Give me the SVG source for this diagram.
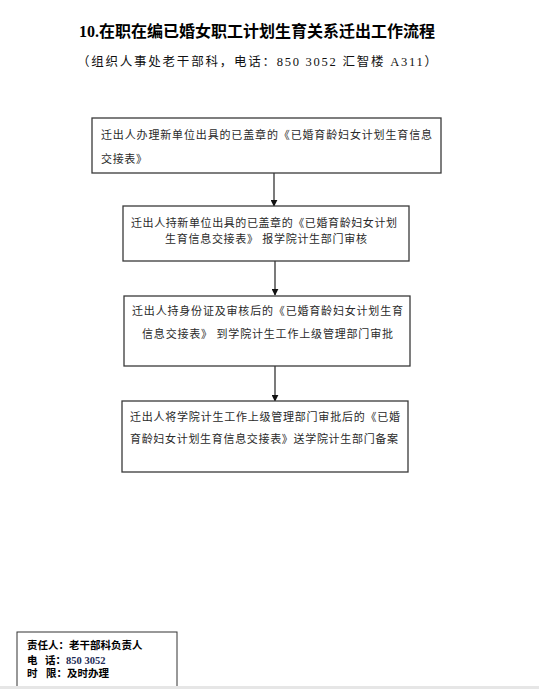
<svg xmlns="http://www.w3.org/2000/svg" width="539" height="689" viewBox="0 0 539 689">
<style>
.box{fill:#fff;stroke:#3a3a3a;stroke-width:1.3}
.t{font-family:"Liberation Serif","Noto Sans CJK SC",serif;font-size:11px;fill:#2a2a2a}
.c{text-anchor:middle}
.title{font-family:"Liberation Serif","Noto Sans CJK SC",serif;font-size:16px;font-weight:bold;fill:#000}
.sub{font-family:"Liberation Serif","Noto Sans CJK SC",serif;font-size:12.5px;fill:#111}
.f{font-family:"Liberation Serif","Noto Sans CJK SC",serif;font-size:10.5px;font-weight:bold;fill:#000}
.conn{stroke:#222;stroke-width:1.2;fill:none}
</style>
<defs>
<marker id="ah" viewBox="0 0 10 10" refX="9" refY="5" markerWidth="7" markerHeight="7" markerUnits="userSpaceOnUse" orient="auto">
<path d="M0,0 L10,5 L0,10 z" fill="#111"/>
</marker>
</defs>
<rect width="539" height="689" fill="#fff"/>
<g id="title">
<text class="title" x="79" y="37" textLength="356" lengthAdjust="spacingAndGlyphs">10.在职在编已婚女职工计划生育关系迁出工作流程</text>
<text class="sub" x="77" y="66" textLength="360" lengthAdjust="spacing">（组织人事处老干部科，电话：850 3052 汇智楼 A311）</text>
</g>
<g id="connectors">
<line class="conn" x1="274" y1="173" x2="274" y2="206" marker-end="url(#ah)"/>
<line class="conn" x1="275" y1="261" x2="275" y2="295" marker-end="url(#ah)"/>
<line class="conn" x1="275" y1="366" x2="275" y2="401" marker-end="url(#ah)"/>
</g>
<g id="n1">
<rect class="box" x="92" y="118" width="349" height="55"/>
<text class="t" x="101" y="139" textLength="331" lengthAdjust="spacing">迁出人办理新单位出具的已盖章的《已婚育龄妇女计划生育信息</text>
<text class="t" x="101" y="163" textLength="46" lengthAdjust="spacing">交接表》</text>
</g>
<g id="n2">
<rect class="box" x="123" y="206" width="286" height="55"/>
<text class="t" x="131" y="227" textLength="266" lengthAdjust="spacing">迁出人持新单位出具的已盖章的《已婚育龄妇女计划</text>
<text class="t" x="165" y="243" textLength="202" lengthAdjust="spacing">生育信息交接表》 报学院计生部门审核</text>
</g>
<g id="n3">
<rect class="box" x="124" y="296" width="286" height="70"/>
<text class="t" x="132" y="315" textLength="271" lengthAdjust="spacing">迁出人持身份证及审核后的《已婚育龄妇女计划生育</text>
<text class="t" x="142" y="338" textLength="251" lengthAdjust="spacing">信息交接表》 到学院计生工作上级管理部门审批</text>
</g>
<g id="n4">
<rect class="box" x="122" y="401" width="286" height="71"/>
<text class="t" x="130" y="421" textLength="270" lengthAdjust="spacing">迁出人将学院计生工作上级管理部门审批后的《已婚</text>
<text class="t" x="130" y="443" textLength="268" lengthAdjust="spacing">育龄妇女计划生育信息交接表》送学院计生部门备案</text>
</g>
<g id="footer">
<rect x="17" y="632" width="160" height="70" fill="#fff" stroke="#333" stroke-width="1"/>
<text class="f" x="27" y="649">责任人：老干部科负责人</text>
<text class="f" x="27" y="664">电<tspan x="45">话：</tspan><tspan fill="#1a2a55">850 3052</tspan></text>
<text class="f" x="27" y="677">时<tspan x="46">限：及时办理</tspan></text>
</g>
<rect x="0" y="686" width="539" height="3" fill="#e6e6e6"/>
</svg>
